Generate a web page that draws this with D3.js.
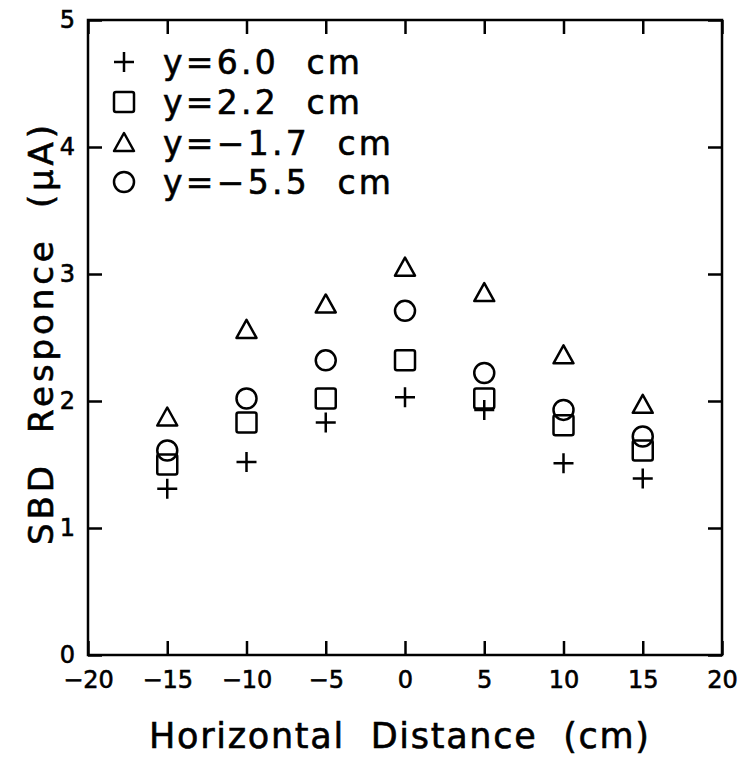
<!DOCTYPE html>
<html>
<head>
<meta charset="utf-8">
<script src="https://cdn.jsdelivr.net/npm/d3@7"></script>
<style>
  html, body { margin: 0; padding: 0; background: #fff; }
  svg { display: block; }
  text { font-family: "DejaVu Sans", sans-serif; fill: #000; white-space: pre; }
</style>
</head>
<body>
<svg id="chart" width="740" height="761"></svg>
<script>
// Horizontal positions of the detector (cm)
const positions = [-15, -10, -5, 0, 5, 10, 15];

// SBD response (µA) at each vertical offset
const seriesNames = ["y=6.0  cm", "y=2.2  cm", "y=\u22121.7  cm", "y=\u22125.5  cm"];
const symbolKinds = ["plus", "square", "triangle", "circle"];
const resp_y60  = [1.31, 1.52, 1.83, 2.03, 1.93, 1.51, 1.39];
const resp_y22  = [1.50, 1.83, 2.02, 2.32, 2.02, 1.81, 1.61];
const resp_ym17 = [1.87, 2.56, 2.76, 3.05, 2.85, 2.36, 1.97];
const resp_ym55 = [1.61, 2.02, 2.32, 2.71, 2.22, 1.93, 1.72];
const seriesValues = [resp_y60, resp_y22, resp_ym17, resp_ym55];

const xTicks = [-20, -15, -10, -5, 0, 5, 10, 15, 20];
const yTicks = [0, 1, 2, 3, 4, 5];

const svg = d3.select("#chart");
const plotL = 88, plotR = 722, plotT = 20, plotB = 655;

const x = d3.scaleLinear().domain([-20, 20]).range([plotL, plotR]);
const y = d3.scaleLinear().domain([0, 5]).range([plotB, plotT]);

const tickLen = 14;
const strokeW = 2.5;
const textStroke = 0.6;

// Frame
svg.append("rect")
  .attr("x", plotL).attr("y", plotT)
  .attr("width", plotR - plotL).attr("height", plotB - plotT)
  .attr("fill", "none").attr("stroke", "#000").attr("stroke-width", strokeW);

// Bottom axis: inward ticks and labels
const bottomAxis = svg.append("g").attr("transform", `translate(0,${plotB})`)
  .call(d3.axisBottom(x).tickValues(xTicks).tickSize(-tickLen).tickPadding(21)
        .tickFormat(d => d < 0 ? "\u2212" + Math.abs(d) : String(d)));
bottomAxis.select(".domain").remove();
bottomAxis.selectAll("line").attr("stroke-width", strokeW);
bottomAxis.selectAll("text")
  .style("font-size", "24px").attr("dy", "0.5em")
  .attr("stroke", "#000").attr("stroke-width", textStroke);

// Top axis: inward ticks only
const topAxis = svg.append("g").attr("transform", `translate(0,${plotT})`)
  .call(d3.axisTop(x).tickValues(xTicks).tickSize(-tickLen).tickFormat(""));
topAxis.select(".domain").remove();
topAxis.selectAll("line").attr("stroke-width", strokeW);

// Left axis: inward ticks and labels
const leftAxis = svg.append("g").attr("transform", `translate(${plotL},0)`)
  .call(d3.axisLeft(y).tickValues(yTicks).tickSize(-tickLen).tickPadding(13)
        .tickFormat(d3.format("d")));
leftAxis.select(".domain").remove();
leftAxis.selectAll("line").attr("stroke-width", strokeW);
leftAxis.selectAll("text")
  .style("font-size", "24px")
  .attr("stroke", "#000").attr("stroke-width", textStroke);

// Right axis: inward ticks only
const rightAxis = svg.append("g").attr("transform", `translate(${plotR},0)`)
  .call(d3.axisRight(y).tickValues(yTicks).tickSize(-tickLen).tickFormat(""));
rightAxis.select(".domain").remove();
rightAxis.selectAll("line").attr("stroke-width", strokeW);

// Marker drawing
function drawMarker(g, kind, cx, cy) {
  const s = 10;
  if (kind === "plus") {
    g.append("path").attr("d", `M${cx - s},${cy}H${cx + s}M${cx},${cy - s}V${cy + s}`);
  } else if (kind === "square") {
    g.append("rect").attr("x", cx - s).attr("y", cy - s)
      .attr("width", 2 * s).attr("height", 2 * s).attr("rx", 2);
  } else if (kind === "triangle") {
    g.append("path").attr("d", `M${cx},${cy - 10}L${cx + 10},${cy + 8}L${cx - 10},${cy + 8}Z`)
      .attr("stroke-linejoin", "round");
  } else {
    g.append("circle").attr("cx", cx).attr("cy", cy).attr("r", s);
  }
}

const marks = svg.append("g").attr("fill", "none").attr("stroke", "#000").attr("stroke-width", strokeW);
seriesValues.forEach((vals, i) => {
  vals.forEach((v, j) => drawMarker(marks, symbolKinds[i], x(positions[j]), y(v)));
});

// Legend
const legend = svg.append("g");
const legendRowY = [62, 102, 143, 182];
const legendTextLen = [197, 197, 228, 228];
seriesNames.forEach((name, i) => {
  const g = legend.append("g").attr("fill", "none").attr("stroke", "#000").attr("stroke-width", strokeW);
  drawMarker(g, symbolKinds[i], 124, legendRowY[i]);
  legend.append("text")
    .attr("x", 163).attr("y", legendRowY[i] + 12)
    .style("font-size", "33px")
    .attr("stroke", "#000").attr("stroke-width", textStroke)
    .attr("textLength", legendTextLen[i])
    .attr("lengthAdjust", "spacing")
    .text(name);
});

// Axis titles
svg.append("text")
  .attr("x", 149).attr("y", 748)
  .style("font-size", "35px")
  .attr("stroke", "#000").attr("stroke-width", textStroke)
  .attr("textLength", 500)
  .attr("lengthAdjust", "spacing")
  .text("Horizontal  Distance  (cm)");

svg.append("text")
  .attr("transform", "translate(53,545) rotate(-90)")
  .style("font-size", "34px")
  .attr("stroke", "#000").attr("stroke-width", textStroke)
  .attr("textLength", 420)
  .attr("lengthAdjust", "spacing")
  .text("SBD  Responce  (\u03bcA)");
</script>
</body>
</html>
